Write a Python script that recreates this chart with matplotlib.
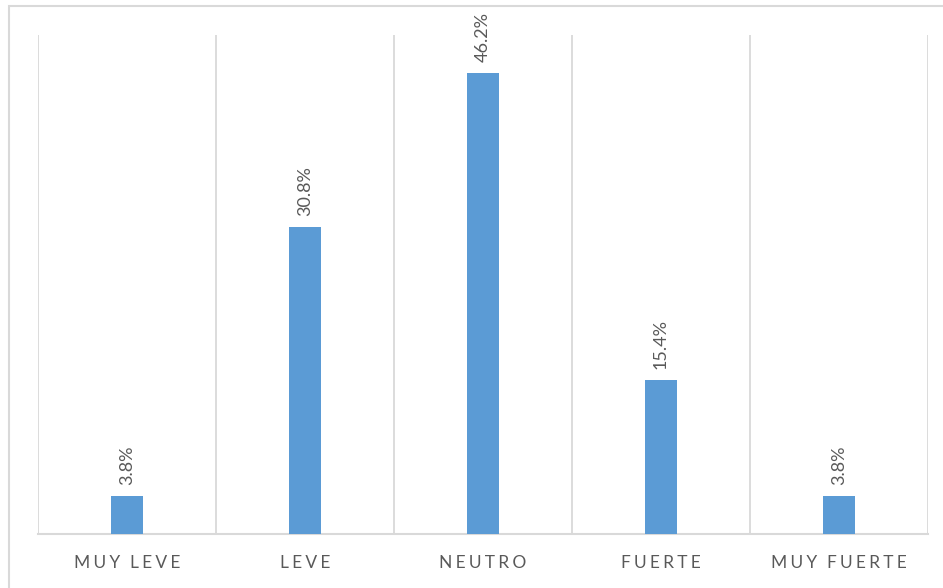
import matplotlib
matplotlib.use("Agg")
import matplotlib.pyplot as plt
from matplotlib.patches import Rectangle

categories = ["MUY LEVE", "LEVE", "NEUTRO", "FUERTE", "MUY FUERTE"]
values = [3.8, 30.8, 46.2, 15.4, 3.8]
value_labels = ["3.8%", "30.8%", "46.2%", "15.4%", "3.8%"]

plt.rcParams['font.family'] = ['Lato', 'DejaVu Sans']

fig = plt.figure(figsize=(9.43, 5.88), dpi=100)
fig.patch.set_facecolor("white")
# outer chart border (partially cropped)
fig.add_artist(Rectangle((9/943, -0.05), 1.1, (588-6)/588 + 0.05, transform=fig.transFigure,
                         fill=False, edgecolor="#d9d9d9", linewidth=1.5))

ax = fig.add_axes([38/943, 54/588, (928-38)/943, (534-35)/588])
x = list(range(len(categories)))
ax.bar(x, values, width=0.185, color="#5b9bd5", zorder=3)
ax.set_xlim(-0.5, len(categories) - 0.5)
ax.set_ylim(0, 50)

# vertical category gridlines
for b in [i - 0.5 for i in range(len(categories) + 1)]:
    ax.axvline(b, color="#d9d9d9", linewidth=1.3, zorder=1)

for s in ["top", "right", "left"]:
    ax.spines[s].set_visible(False)
ax.spines["bottom"].set_color("#d9d9d9")
ax.spines["bottom"].set_linewidth(1.5)
ax.set_yticks([])
ax.set_xticks(x)
sep = "\u2009\u200a"
def spaced(c):
    return sep.join(list(c)).replace(sep + " " + sep, sep * 3)
ax.set_xticklabels([spaced(c) for c in categories], fontsize=12.5, color="#595959")
ax.tick_params(axis="x", length=0, pad=15)

for xi, v, lab in zip(x, values, value_labels):
    ax.annotate(lab, (xi, v), xytext=(0, 8), textcoords="offset points",
                rotation=90, ha="center", va="bottom", fontsize=13, color="#595959")

fig.savefig("out.png", dpi=100)
